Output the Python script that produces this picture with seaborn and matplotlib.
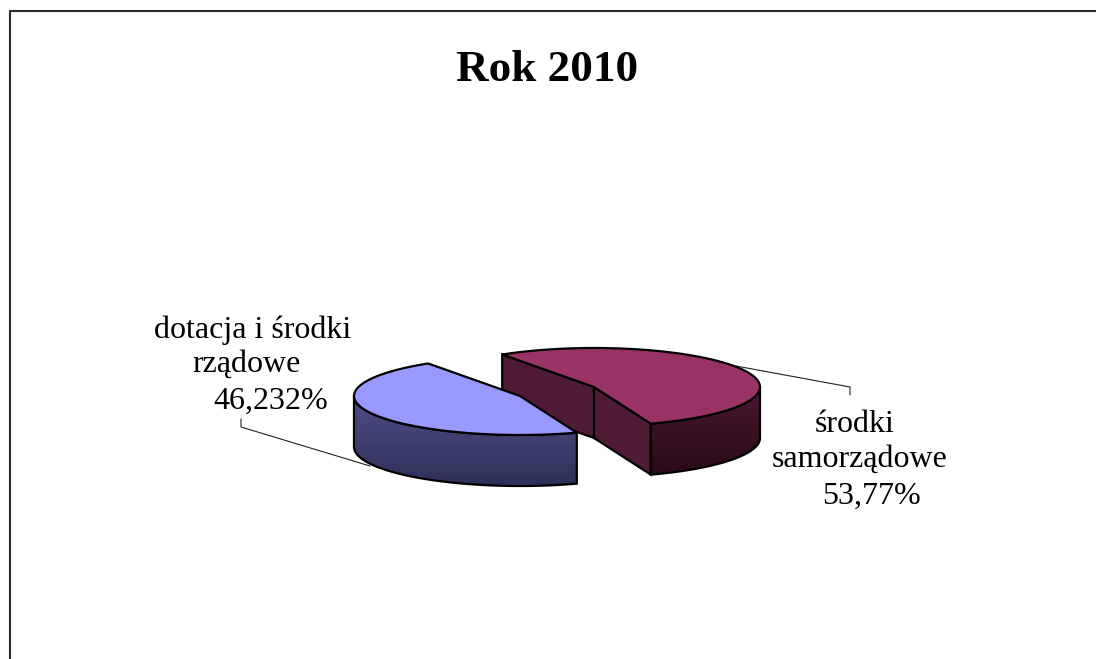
import numpy as np
import matplotlib
matplotlib.use("Agg")
import matplotlib.pyplot as plt
from matplotlib.patches import Polygon
import seaborn as sns

title = "Rok 2010"
blue_label = ["dotacja i środki", "rządowe", "46,232%"]
red_label = ["środki", "samorządowe", "53,77%"]
shares = [46.232, 53.77]

sns.set_theme(style="white")
plt.rcParams["font.family"] = ["Liberation Serif", "DejaVu Serif"]

fig = plt.figure(figsize=(10.96, 6.59), dpi=100)
ax = fig.add_axes([0, 0, 1, 1])
ax.set_xlim(0, 1096)
ax.set_ylim(659, 0)
ax.axis("off")

# chart frame, only left and top are in the picture
ax.plot([10, 10, 1096], [659, 11, 11], color="#2a2a2a", lw=1.5)

A, B, DEPTH = 166, 39, 51
RED_C = (594, 387)
BLUE_C = (520, 396)

# the red slice ends at -70 deg, everything else follows from the shares
red_start = -70
red_end = red_start + shares[1] * 3.6
blue_end = red_end + shares[0] * 3.6


def arc(center, t0, t1, drop=0):
    t = np.radians(np.linspace(t0, t1, 120))
    return np.column_stack([center[0] + A * np.cos(t), center[1] - B * np.sin(t) + drop])


def side(pts, top, bottom, z):
    # vertical gradient clipped to a polygon
    poly = Polygon(pts, closed=True, fc="none", ec="none", zorder=z)
    ax.add_patch(poly)
    cmap = sns.blend_palette([top, bottom], as_cmap=True)
    y0, y1 = pts[:, 1].min(), pts[:, 1].max()
    im = ax.imshow(np.linspace(0, 1, 64)[:, None], cmap=cmap, aspect="auto", zorder=z,
                   extent=[pts[:, 0].min(), pts[:, 0].max(), y1, y0])
    im.set_clip_path(poly)
    ax.add_patch(Polygon(pts, closed=True, fc="none", ec="black", lw=1.6, zorder=z + 0.1))


# red slice
c = np.array(RED_C)
outer = arc(RED_C, red_start, 0)
side(np.vstack([outer, arc(RED_C, 0, red_start, DEPTH)]), "#4a1830", "#2a0a18", 2)
p_left = arc(RED_C, red_end, red_end)[0]
p_right = arc(RED_C, red_start, red_start)[0]
for a, b in [(p_left, c), (c, p_right)]:
    face = np.array([a, b, b + [0, DEPTH], a + [0, DEPTH]])
    ax.add_patch(Polygon(face, closed=True, fc="#4f1b36", ec="black", lw=1.6, zorder=2))
ax.add_patch(Polygon(np.vstack([arc(RED_C, red_start, red_end), c]), closed=True,
                     fc="#993366", ec="black", lw=1.6, zorder=3))

# blue slice goes over the red one
c = np.array(BLUE_C)
side(np.vstack([arc(BLUE_C, 180, blue_end), arc(BLUE_C, blue_end, 180, DEPTH)]),
     "#4d4d86", "#2f3058", 4)
ax.add_patch(Polygon(np.vstack([arc(BLUE_C, red_end, blue_end), c]), closed=True,
                     fc="#9999ff", ec="black", lw=1.6, zorder=5))

ax.set_xlim(0, 1096)
ax.set_ylim(659, 0)

# leader lines
ax.plot([736, 850, 850], [366, 387, 395], color="#222222", lw=0.8, zorder=1)
ax.plot([370, 241, 241], [466, 427, 419], color="#222222", lw=0.8, zorder=1)

ax.text(547, 81, title, ha="center", va="baseline", fontsize=32.5, fontweight="bold", color="black")

# label lines are not centred on each other in the original
for line, x, y in zip(blue_label, [253, 247, 271], [338, 372, 409]):
    ax.text(x, y, line, ha="center", va="baseline", fontsize=23, color="black")
for line, x, y in zip(red_label, [855, 860, 872], [432, 467, 504]):
    ax.text(x, y, line, ha="center", va="baseline", fontsize=23, color="black")

fig.savefig("out.png", dpi=100, facecolor="white")
